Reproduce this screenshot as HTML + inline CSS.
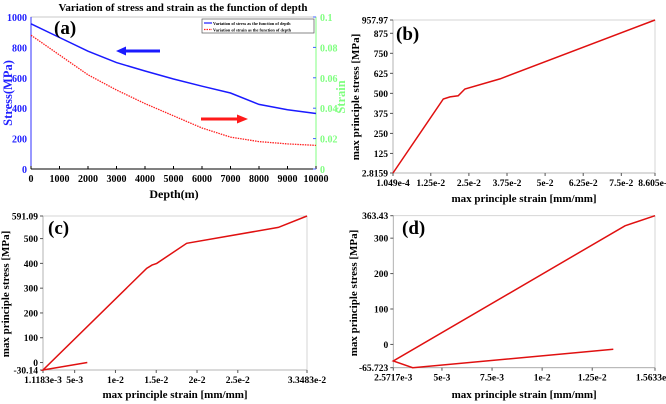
<!DOCTYPE html>
<html><head><meta charset="utf-8"><style>
body{margin:0;background:#fff;}
svg{display:block;font-family:"Liberation Serif",serif;font-weight:bold;}
</style></head><body>
<svg id="s" width="666" height="404" viewBox="0 0 666 404" xmlns="http://www.w3.org/2000/svg"></svg>
<script>
// Panel (a)
const depthCats=[0,1000,2000,3000,4000,5000,6000,7000,8000,9000,10000];
const stressA=[955,865,775,700,645,592,545,500,425,390,365];
const strainA=[0.088,0.075,0.062,0.052,0.043,0.035,0.027,0.021,0.018,0.0165,0.0155];
const aXTicks=[0,1000,2000,3000,4000,5000,6000,7000,8000,9000,10000];
const aYTicks=[0,200,400,600,800,1000];
const aY2Ticks=[0,0.02,0.04,0.06,0.08,0.1];
// Panel (b)
const strainB=[0.0001049,0.0166,0.0188,0.0215,0.0237,0.0352,0.08605];
const stressB=[2.8159,465,478,485,527,590,957.97];
const bXTicks=[0.0001049,0.0125,0.025,0.0375,0.05,0.0625,0.075,0.08605];
const bXLabels=["1.049e-4","1.25e-2","2.5e-2","3.75e-2","5e-2","6.25e-2","7.5e-2","8.605e-2"];
const bYTicks=[2.8159,125,250,375,500,625,750,875,957.97];
const bYLabels=["2.8159","125","250","375","500","625","750","875","957.97"];
// Panel (c)
const strainC=[0.00655,0.0011183,0.01383,0.01448,0.01506,0.01873,0.02996,0.033483];
const stressC=[0,-30.14,380,393,400,481,545,591.09];
const cXTicks=[0.0011183,0.005,0.01,0.015,0.02,0.025,0.033483];
const cXLabels=["1.1183e-3","5e-3","1e-2","1.5e-2","2e-2","2.5e-2","3.3483e-2"];
const cYTicks=[-30.14,0,100,200,300,400,500,591.09];
const cYLabels=["-30.14","0","100","200","300","400","500","591.09"];
// Panel (d)
const strainD=[0.013552,0.00354,0.0025717,0.014136,0.015633];
const stressD=[-13.8,-65.723,-46.9,335,363.43];
const dXTicks=[0.0025717,0.005,0.0075,0.01,0.0125,0.015633];
const dXLabels=["2.5717e-3","5e-3","7.5e-3","1e-2","1.25e-2","1.5633e-2"];
const dYTicks=[-65.723,0,100,200,300,363.43];
const dYLabels=["-65.723","0","100","200","300","363.43"];

const S=document.getElementById('s');
const NS="http://www.w3.org/2000/svg";
function el(tag,attrs,txt){const e=document.createElementNS(NS,tag);for(const k in attrs)e.setAttribute(k,attrs[k]);if(txt!==undefined)e.textContent=txt;S.appendChild(e);return e;}
function lin(d0,d1,r0,r1){return v=>r0+(v-d0)/(d1-d0)*(r1-r0);}
function path(xs,ys,fx,fy){return xs.map((v,i)=>(i?'L':'M')+fx(v).toFixed(1)+','+fy(ys[i]).toFixed(1)).join('');}

// ---- Panel (a)
{
const fx=lin(0,10000,31,316), fy=lin(0,1000,169,17), fy2=lin(0,0.1,169,17);
let e=el('rect',{x:31,y:17,width:285,height:152,fill:'none',stroke:'#bbb','stroke-width':0.8});

el('line',{x1:31,y1:17,x2:31,y2:169,stroke:'#3030ff','stroke-width':1});
el('line',{x1:316,y1:17,x2:316,y2:169,stroke:'#80ff80','stroke-width':1});
el('line',{x1:31,y1:169,x2:316,y2:169,stroke:'#000','stroke-width':1});
aXTicks.forEach(t=>{const x=fx(t);el('line',{x1:x,y1:169,x2:x,y2:166,stroke:'#000'});
 e=el('text',{x:x,y:182,'font-size':10,'text-anchor':'middle',fill:'#000'},t);});
aYTicks.forEach(t=>{const y=fy(t);e=el('text',{x:27,y:y+4,'font-size':10,'text-anchor':'end',fill:'#2020ff'},t);});
aY2Ticks.forEach(t=>{const y=fy2(t);el('line',{x1:313,y1:y,x2:316,y2:y,stroke:'#4060ff'});e=el('text',{x:320,y:y+4,'font-size':10,fill:'#80ff80'},t);});
e=el('path',{d:path(depthCats,stressA,fx,fy),fill:'none',stroke:'#1a1aff','stroke-width':1.5});
e=el('path',{d:path(depthCats,strainA,fx,fy2),fill:'none',stroke:'#ff2020','stroke-width':1.3,'stroke-dasharray':'1.5,1'});
e=el('text',{x:183,y:11,'font-size':11,'text-anchor':'middle'},'Variation of stress and strain as the function of depth');
e=el('text',{x:54,y:34,'font-size':19},'(a)');
e=el('text',{x:174,y:198,'font-size':12,'text-anchor':'middle'},'Depth(m)');
e=el('text',{x:0,y:0,'font-size':12.5,'text-anchor':'middle',fill:'#2020ff',transform:'translate(12,93) rotate(-90)'},'Stress(MPa)');
e=el('text',{x:0,y:0,'font-size':12.5,'text-anchor':'middle',fill:'#80ff80',transform:'translate(345,97) rotate(-90)'},'Strain');
e=el('rect',{x:202,y:19,width:112,height:14,fill:'#fff',stroke:'#555','stroke-width':0.7});
el('line',{x1:204,y1:23,x2:212,y2:23,stroke:'#1a1aff','stroke-width':1.2});
e=el('text',{x:213,y:25,'font-size':4.3},'Variation of stress as the function of depth');
el('line',{x1:204,y1:29.5,x2:212,y2:29.5,stroke:'#ff2020','stroke-width':1.2,'stroke-dasharray':'1.5,1'});
e=el('text',{x:213,y:31.5,'font-size':4.3},'Variation of strain as the function of depth');
e=el('line',{x1:160,y1:51,x2:124,y2:51,stroke:'#1a1aff','stroke-width':3});
el('polygon',{points:'116,51 126,46.5 126,55.5',fill:'#1a1aff'});
e=el('line',{x1:201,y1:119,x2:238,y2:119,stroke:'#ff1a1a','stroke-width':3});
el('polygon',{points:'248,119 237,114.5 237,123.5',fill:'#ff1a1a'});
}

function panel(id,px0,px1,py0,py1,xd,yd,xT,xL,yT,yL,xs,ys,label,lx,ly,yTitleX,xTitleY,yTitleY){
 const fx=lin(xd[0],xd[1],px0,px1), fy=lin(yd[0],yd[1],py0,py1);
 let e=el('rect',{x:px0,y:py1,width:px1-px0,height:py0-py1,fill:'none',stroke:'#ccc','stroke-width':0.8});
 
 el('line',{x1:px0,y1:py1,x2:px0,y2:py0,stroke:'#aaa','stroke-width':0.8});
 el('line',{x1:px0,y1:py0,x2:px1,y2:py0,stroke:'#aaa','stroke-width':0.8});
 xT.forEach((t,i)=>{const x=fx(t);el('line',{x1:x,y1:py0,x2:x,y2:py0+3,stroke:'#555'});
  e=el('text',{x:x,y:py0+13,'font-size':9.5,'text-anchor':'middle'},xL[i]);});
 yT.forEach((t,i)=>{const y=fy(t);el('line',{x1:px0-3,y1:y,x2:px0,y2:y,stroke:'#555'});
  e=el('text',{x:px0-5,y:y+3.5,'font-size':9.5,'text-anchor':'end'},yL[i]);});
 e=el('path',{d:path(xs,ys,fx,fy),fill:'none',stroke:'#e01010','stroke-width':1.5});
 e=el('text',{x:lx,y:ly,'font-size':19},label);
 e=el('text',{x:(px0+px1)/2,y:xTitleY,'font-size':11,'text-anchor':'middle'},'max principle strain [mm/mm]');
 e=el('text',{x:0,y:0,'font-size':11,'text-anchor':'middle',transform:'translate('+yTitleX+','+yTitleY+') rotate(-90)'},'max principle stress [MPa]');
}
panel('b',393,655,173,20,[0.0001049,0.08605],[2.8159,957.97],bXTicks,bXLabels,bYTicks,bYLabels,strainB,stressB,'(b)',396,40,359,202,97);
panel('c',43,307,370,216,[0.0011183,0.033483],[-30.14,591.09],cXTicks,cXLabels,cYTicks,cYLabels,strainC,stressC,'(c)',48,234,9,398,294);
panel('d',393.3,655,367.7,215.7,[0.0025717,0.015633],[-65.723,363.43],dXTicks,dXLabels,dYTicks,dYLabels,strainD,stressD,'(d)',402,234,357,398,293);
</script>
</body></html>
